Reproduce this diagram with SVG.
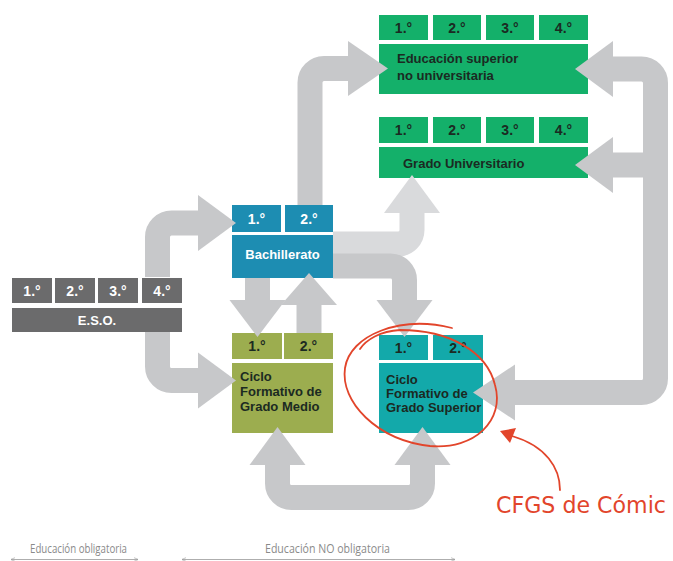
<svg xmlns="http://www.w3.org/2000/svg" width="673" height="561" viewBox="0 0 673 561">
<defs>
<style>
.lbl{font-family:"Liberation Sans",Arial,sans-serif;font-weight:bold;font-size:13px}
.cell{font-size:14px}
.w{fill:#ffffff}
.d{fill:#1b2a22}
.eso{fill:#6b6b6c}
.bach{fill:#1d8db2}
.grn{fill:#14b06a}
.cfgm{fill:#9cad4f}
.cfgs{fill:#13a9aa}
.shaft{fill:none;stroke:#c7c8ca;stroke-width:25}
.head{fill:#c7c8ca}
.shaftL{fill:none;stroke:#d9dadc;stroke-width:25}
.headL{fill:#d9dadc}
.foot{font-family:"Open Sans","Liberation Sans",sans-serif;font-size:12px;fill:#8a8a8a}
</style>
<marker id="ah" viewBox="0 0 10 10" refX="9" refY="5" markerWidth="6" markerHeight="6" orient="auto-start-reverse">
<path d="M0,1 L10,5 L0,9" fill="none" stroke="#999" stroke-width="1.2"/>
</marker>
</defs>
<rect width="673" height="561" fill="#ffffff"/>

<g id="eso">
<rect class="eso" x="12" y="278" width="40" height="25"/>
<rect class="eso" x="55" y="278" width="40" height="25"/>
<rect class="eso" x="98" y="278" width="40" height="25"/>
<rect class="eso" x="142" y="278" width="40" height="25"/>
<rect class="eso" x="12" y="308" width="170" height="24"/>
<text class="lbl cell w" x="32" y="296" text-anchor="middle">1.°</text>
<text class="lbl cell w" x="75" y="296" text-anchor="middle">2.°</text>
<text class="lbl cell w" x="118" y="296" text-anchor="middle">3.°</text>
<text class="lbl cell w" x="162" y="296" text-anchor="middle">4.°</text>
<text class="lbl w" x="97" y="325" text-anchor="middle">E.S.O.</text>
</g>

<g id="bachillerato">
<rect class="bach" x="232" y="205" width="49" height="27"/>
<rect class="bach" x="285" y="205" width="48" height="27"/>
<rect class="bach" x="232" y="235" width="101" height="43"/>
<text class="lbl cell w" x="256.5" y="224" text-anchor="middle">1.°</text>
<text class="lbl cell w" x="309" y="224" text-anchor="middle">2.°</text>
<text class="lbl w" x="282.5" y="259" text-anchor="middle">Bachillerato</text>
</g>

<g id="esnu">
<rect class="grn" x="379" y="15" width="49" height="25"/>
<rect class="grn" x="433" y="15" width="48" height="25"/>
<rect class="grn" x="486" y="15" width="48" height="25"/>
<rect class="grn" x="539" y="15" width="49" height="25"/>
<rect class="grn" x="379" y="44" width="209" height="50"/>
<text class="lbl cell d" x="403.5" y="33" text-anchor="middle">1.°</text>
<text class="lbl cell d" x="457" y="33" text-anchor="middle">2.°</text>
<text class="lbl cell d" x="510" y="33" text-anchor="middle">3.°</text>
<text class="lbl cell d" x="563.5" y="33" text-anchor="middle">4.°</text>
<text class="lbl d" x="397" y="63">Educación superior</text>
<text class="lbl d" x="397" y="80">no universitaria</text>
</g>

<g id="grado-universitario">
<rect class="grn" x="379" y="117" width="49" height="26"/>
<rect class="grn" x="433" y="117" width="48" height="26"/>
<rect class="grn" x="486" y="117" width="48" height="26"/>
<rect class="grn" x="539" y="117" width="49" height="26"/>
<rect class="grn" x="379" y="147" width="209" height="31"/>
<text class="lbl cell d" x="403.5" y="135" text-anchor="middle">1.°</text>
<text class="lbl cell d" x="457" y="135" text-anchor="middle">2.°</text>
<text class="lbl cell d" x="510" y="135" text-anchor="middle">3.°</text>
<text class="lbl cell d" x="563.5" y="135" text-anchor="middle">4.°</text>
<text class="lbl d" x="403" y="168">Grado Universitario</text>
</g>

<g id="cfgm">
<rect class="cfgm" x="232" y="333" width="50" height="26"/>
<rect class="cfgm" x="284" y="333" width="49" height="26"/>
<rect class="cfgm" x="232" y="363" width="101" height="70"/>
<text class="lbl cell d" x="257" y="351" text-anchor="middle">1.°</text>
<text class="lbl cell d" x="308.5" y="351" text-anchor="middle">2.°</text>
<text class="lbl d" x="240" y="381">Ciclo</text>
<text class="lbl d" x="240" y="396">Formativo de</text>
<text class="lbl d" x="240" y="411">Grado Medio</text>
</g>

<g id="cfgs">
<rect class="cfgs" x="379" y="335" width="49" height="25"/>
<rect class="cfgs" x="433" y="335" width="50" height="25"/>
<rect class="cfgs" x="379" y="363" width="104" height="70"/>
<text class="lbl cell d" x="403.5" y="353" text-anchor="middle">1.°</text>
<text class="lbl cell d" x="458" y="353" text-anchor="middle">2.°</text>
<text class="lbl d" x="386" y="384">Ciclo</text>
<text class="lbl d" x="386" y="398">Formativo de</text>
<text class="lbl d" x="386" y="412">Grado Superior</text>
</g>

<g id="connectors">
<path class="shaft" d="M157.5 277 V237 A14 14 0 0 1 171.5 223 H199"/>
<polygon class="head" points="198,195 236,223 198,251"/>
<path class="shaft" d="M157.5 332 V366.5 A14 14 0 0 0 171.5 380.5 H199"/>
<polygon class="head" points="198,352.5 236,380.5 198,408.5"/>
<path class="shaft" d="M257.5 278 V301"/>
<polygon class="head" points="229.5,300 285.5,300 257.5,337"/>
<path class="shaft" d="M309 333 V304"/>
<polygon class="head" points="281,305 337,305 309,273"/>
<path class="shaft" d="M310 205 V82.5 A14 14 0 0 1 324 68.5 H349"/>
<polygon class="head" points="348,41 388,68.5 348,96"/>
<path class="shaftL" d="M333 244 H398 A14 14 0 0 0 412 230 V212"/>
<polygon class="headL" points="384,213 440,213 412,175"/>
<path class="shaft" d="M333 266 H390.5 A14 14 0 0 1 404.5 280 V301"/>
<polygon class="head" points="376.5,300 432.5,300 404.5,337"/>
<path class="shaft" d="M514 392.5 H641.5 A14 14 0 0 0 655.5 378.5 V83 A14 14 0 0 0 641.5 69 H612"/>
<path class="shaft" d="M612 165 H656"/>
<polygon class="head" points="613,41 575,69 613,97"/>
<polygon class="head" points="613,137 575,165 613,193"/>
<polygon class="head" points="515,364.5 473,392.5 515,420.5"/>
<path class="shaft" d="M277.5 464 V483.5 A14 14 0 0 0 291.5 497.5 H408.5 A14 14 0 0 0 422.5 483.5 V464"/>
<polygon class="head" points="249.5,465 305.5,465 277.5,427"/>
<polygon class="head" points="394.5,465 450.5,465 422.5,427"/>
</g>

<g id="annotation" fill="none" stroke="#e2452b" stroke-width="1.8" stroke-linecap="round">
<path d="M452 328 C400 315 350 335 345 368 C340 402 377 440 430 446 C475 450 505 420 495 385 C487 352 450 330 400 330 C380 331 366 340 360 349"/>
<path d="M560 490 C560 468 546 446 512 436"/>
<polygon points="500,431 516,428 510,443" fill="#e2452b" stroke="none"/>
</g>
<text x="496" y="513" font-family="'DejaVu Sans','Liberation Sans',sans-serif" font-size="23" fill="#e2452b" textLength="170" lengthAdjust="spacingAndGlyphs">CFGS de Cómic</text>

<g id="legend">
<text class="foot" x="30" y="553" textLength="97" lengthAdjust="spacingAndGlyphs">Educación obligatoria</text>
<text class="foot" x="265" y="553" textLength="125" lengthAdjust="spacingAndGlyphs">Educación NO obligatoria</text>
<line x1="11" y1="559.5" x2="138" y2="559.5" stroke="#999" stroke-width="0.8" marker-start="url(#ah)" marker-end="url(#ah)"/>
<line x1="182" y1="559.5" x2="455" y2="559.5" stroke="#999" stroke-width="0.8" marker-start="url(#ah)" marker-end="url(#ah)"/>
</g>
</svg>
